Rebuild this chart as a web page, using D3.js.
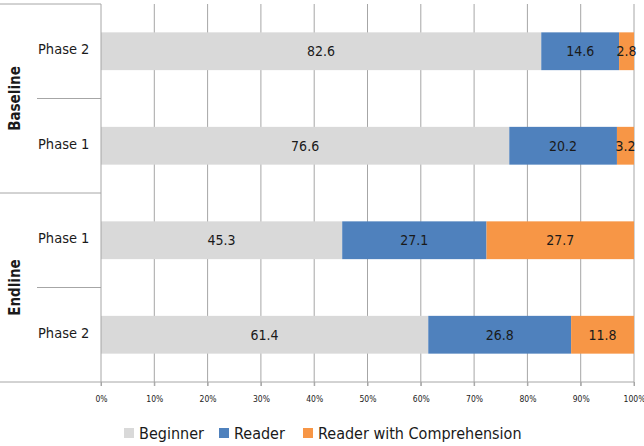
<!DOCTYPE html>
<html>
<head>
<meta charset="utf-8">
<script src="https://cdn.jsdelivr.net/npm/d3@7"></script>
<style>
  body { margin: 0; background: #fff; }
  svg text { font-family: "Liberation Sans Narrow", "DejaVu Sans Condensed", "Open Sans", sans-serif; }
</style>
</head>
<body>
<div id="chart"></div>
<script>
// Données
const groups = ['Baseline', 'Endline'];
const rows = [
  { group: 'Baseline', phase: 'Phase 2' },
  { group: 'Baseline', phase: 'Phase 1' },
  { group: 'Endline', phase: 'Phase 1' },
  { group: 'Endline', phase: 'Phase 2' }
];
const seriesNames = ['Beginner', 'Reader', 'Reader with Comprehension'];
const beginner = [82.6, 76.6, 45.3, 61.4];
const reader = [14.6, 20.2, 27.1, 26.8];
const readerComp = [2.8, 3.2, 27.7, 11.8];
const tickValues = [0, 0.1, 0.2, 0.3, 0.4, 0.5, 0.6, 0.7, 0.8, 0.9, 1];
const colors = ['#d9d9d9', '#4f81bd', '#f79646'];

const width = 644, height = 446;
const margin = { top: 4, right: 10, bottom: 64, left: 101 };

const svg = d3.select('#chart')
  .append('svg')
  .attr('width', width)
  .attr('height', height);

// Construire la table pour d3.stack
const table = rows.map((r, i) => {
  const total = beginner[i] + reader[i] + readerComp[i];
  return {
    key: i,
    raw: [beginner[i], reader[i], readerComp[i]],
    Beginner: beginner[i] / total,
    Reader: reader[i] / total,
    'Reader with Comprehension': readerComp[i] / total
  };
});
const stacked = d3.stack().keys(seriesNames)(table);

const x = d3.scaleLinear().domain([0, 1]).range([margin.left, 634]);
const y = d3.scaleBand().domain(d3.range(rows.length))
  .range([margin.top, height - margin.bottom]).paddingInner(0.6).paddingOuter(0.3);
const band = d3.scaleBand().domain(d3.range(rows.length))
  .range([margin.top, height - margin.bottom]);

// Grille verticale
svg.append('g')
  .selectAll('line')
  .data(tickValues.slice(1))
  .enter()
  .append('line')
  .attr('x1', d => x(d)).attr('x2', d => x(d))
  .attr('y1', margin.top).attr('y2', height - margin.bottom + 4)
  .attr('stroke', '#a6a6a6').attr('stroke-width', 1);

// Axe du bas
const axis = d3.axisBottom(x).tickValues(tickValues)
  .tickFormat(d3.format('.0%')).tickSize(4).tickPadding(10);
const gx = svg.append('g')
  .attr('transform', `translate(0,${height - margin.bottom})`)
  .call(axis);
gx.select('.domain').attr('stroke', '#a6a6a6').attr('d', `M${margin.left},0H${x(1)}`);
gx.selectAll('.tick line').attr('stroke', '#a6a6a6');
gx.selectAll('.tick text').attr('font-size', '8.5px').attr('fill', '#222');

// Barres empilées
const layers = svg.append('g')
  .selectAll('g')
  .data(stacked)
  .enter()
  .append('g')
  .attr('fill', (d, i) => colors[i]);

layers.selectAll('rect')
  .data(d => d)
  .enter()
  .append('rect')
  .attr('x', d => x(d[0]))
  .attr('width', d => x(d[1]) - x(d[0]))
  .attr('y', (d, i) => y(i))
  .attr('height', y.bandwidth());

// Étiquettes des valeurs
layers.each(function(s, si) {
  d3.select(this).selectAll('text')
    .data(s)
    .enter()
    .append('text')
    .attr('x', d => (x(d[0]) + x(d[1])) / 2)
    .attr('y', (d, i) => y(i) + y.bandwidth() / 2)
    .attr('dy', '0.35em')
    .attr('text-anchor', 'middle')
    .attr('font-size', '14px')
    .attr('fill', '#1a1a1a')
    .text(d => d.data.raw[si].toFixed(1));
});

// Axe vertical et séparateurs
const plotBottom = height - margin.bottom;
svg.append('line')
  .attr('x1', margin.left).attr('x2', margin.left)
  .attr('y1', margin.top).attr('y2', plotBottom + 4)
  .attr('stroke', '#a6a6a6');

const seps = [
  { yv: band(0), x1: 0 },
  { yv: band(1), x1: 37 },
  { yv: band(2), x1: 0 },
  { yv: band(3), x1: 37 },
  { yv: plotBottom, x1: 0 }
];
svg.append('g')
  .selectAll('line')
  .data(seps)
  .enter()
  .append('line')
  .attr('x1', d => d.x1).attr('x2', margin.left)
  .attr('y1', d => d.yv).attr('y2', d => d.yv)
  .attr('stroke', '#a6a6a6');

// Libellés des phases
svg.append('g')
  .selectAll('text')
  .data(rows)
  .enter()
  .append('text')
  .attr('x', 38)
  .attr('y', (d, i) => band(i) + band.bandwidth() / 2 - 2)
  .attr('dy', '0.35em')
  .attr('font-size', '14.5px')
  .attr('fill', '#1a1a1a')
  .text(d => d.phase);

// Libellés des groupes (verticaux)
svg.append('g')
  .selectAll('text')
  .data(groups)
  .enter()
  .append('text')
  .attr('transform', (d, gi) => `translate(20,${band(gi * 2) + band.bandwidth()}) rotate(-90)`)
  .attr('text-anchor', 'middle')
  .attr('font-size', '15px')
  .attr('font-weight', 'bold')
  .attr('fill', '#1a1a1a')
  .text(d => d);

// Légende
const legendX = [124, 219, 303];
const legend = svg.append('g')
  .selectAll('g')
  .data(seriesNames)
  .enter()
  .append('g')
  .attr('transform', (d, i) => `translate(${legendX[i]},433)`);

legend.append('rect')
  .attr('x', 0).attr('y', -5)
  .attr('width', 10).attr('height', 10)
  .attr('fill', (d, i) => colors[i]);

legend.append('text')
  .attr('x', 15)
  .attr('dy', '0.35em')
  .attr('font-size', '16px')
  .attr('fill', '#1a1a1a')
  .text(d => d);
</script>
</body>
</html>
